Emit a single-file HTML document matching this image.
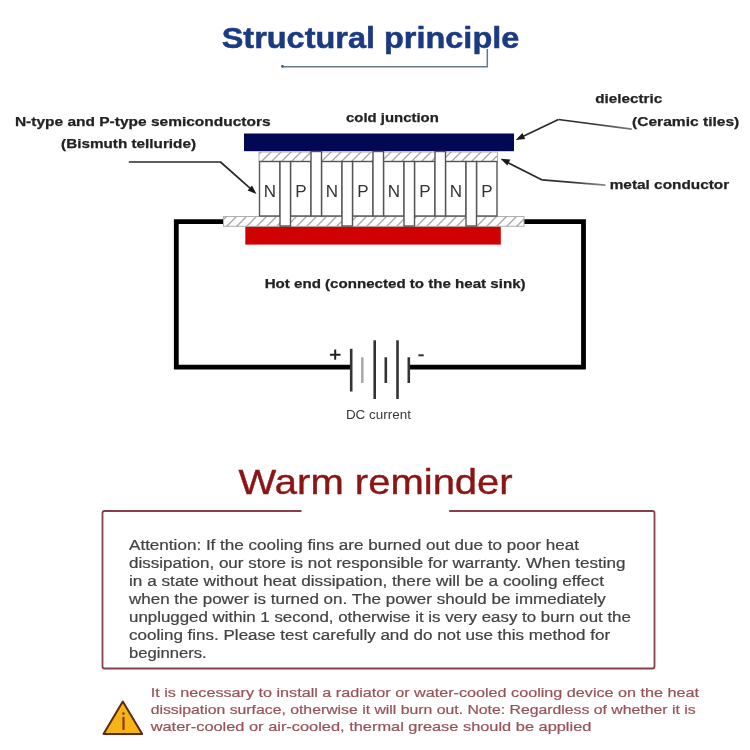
<!DOCTYPE html>
<html><head><meta charset="utf-8">
<style>
html,body{margin:0;padding:0;background:#fff;}
body{width:750px;height:750px;overflow:hidden;position:relative;}
svg{position:absolute;left:0;top:0;filter:blur(0.3px);}
text{font-family:"Liberation Sans",sans-serif;}
</style></head>
<body>
<svg width="750" height="750" viewBox="0 0 750 750">
<defs>
<pattern id="hatch" patternUnits="userSpaceOnUse" width="10" height="10" patternTransform="translate(3,0)">
<path d="M-2,12 L12,-2" stroke="#a8a8a8" stroke-width="1.3"/>
<path d="M-12,12 L2,-2" stroke="#a8a8a8" stroke-width="1.3"/>
<path d="M8,12 L22,-2" stroke="#a8a8a8" stroke-width="1.3"/>
</pattern>
</defs>

<!-- Title -->
<text x="221.7" y="48.4" font-size="29" font-weight="bold" fill="#1b3a82" stroke="#1b3a82" stroke-width="0.5" textLength="297.6" lengthAdjust="spacingAndGlyphs">Structural principle</text>
<path d="M282,66.8 H487.3 V49" fill="none" stroke="#66798a" stroke-width="1.5"/>
<circle cx="282.4" cy="66.3" r="1.4" fill="#4a5a68"/>

<!-- Labels -->
<text x="14.9" y="126.2" font-size="13" font-weight="bold" fill="#222" stroke="#222" stroke-width="0.25" textLength="255.7" lengthAdjust="spacingAndGlyphs">N-type and P-type semiconductors</text>
<text x="61.1" y="148.2" font-size="13" font-weight="bold" fill="#222" stroke="#222" stroke-width="0.25" textLength="134.9" lengthAdjust="spacingAndGlyphs">(Bismuth telluride)</text>
<text x="346" y="121.6" font-size="13.5" font-weight="bold" fill="#222" stroke="#222" stroke-width="0.25" textLength="92.8" lengthAdjust="spacingAndGlyphs">cold junction</text>
<text x="595.3" y="103.1" font-size="13" font-weight="bold" fill="#222" stroke="#222" stroke-width="0.25" textLength="66.8" lengthAdjust="spacingAndGlyphs">dielectric</text>
<text x="632" y="126" font-size="13" font-weight="bold" fill="#222" stroke="#222" stroke-width="0.25" textLength="107.3" lengthAdjust="spacingAndGlyphs">(Ceramic tiles)</text>
<text x="609.7" y="189.2" font-size="13" font-weight="bold" fill="#222" stroke="#222" stroke-width="0.25" textLength="119.5" lengthAdjust="spacingAndGlyphs">metal conductor</text>
<text x="264.7" y="287.6" font-size="13" font-weight="bold" fill="#222" stroke="#222" stroke-width="0.25" textLength="260.9" lengthAdjust="spacingAndGlyphs">Hot end (connected to the heat sink)</text>

<!-- Arrows -->
<defs>
<linearGradient id="g1" gradientUnits="userSpaceOnUse" x1="558" y1="120" x2="632" y2="129"><stop offset="0" stop-color="#2a2a2a"/><stop offset="0.5" stop-color="#3a3a3a"/><stop offset="1" stop-color="#7a7a7a"/></linearGradient>
<linearGradient id="g2" gradientUnits="userSpaceOnUse" x1="542" y1="180" x2="605" y2="185"><stop offset="0" stop-color="#2a2a2a"/><stop offset="0.5" stop-color="#3a3a3a"/><stop offset="1" stop-color="#8a8a8a"/></linearGradient>
</defs>
<g fill="none" stroke-width="1.7" stroke-linejoin="round">
<polyline points="128.8,162 220.5,162 252.8,190.7" stroke="#2a2a2a"/>
<polyline points="558.4,119.5 520.2,137.7" stroke="#2a2a2a"/>
<polyline points="631.8,129.2 558.4,119.5" stroke="url(#g1)"/>
<polyline points="542.2,179.9 505.6,161.5" stroke="#2a2a2a"/>
<polyline points="605.4,185.2 542.2,179.9" stroke="url(#g2)"/>
</g>
<g fill="#1a1a1a">
<polygon points="256.5,194.0 247.6,190.5 252.0,185.6"/>
<polygon points="515.7,139.9 522.4,133.0 525.2,138.9"/>
<polygon points="500.6,158.8 510.3,159.6 507.3,165.6"/>
</g>

<!-- Wire -->
<path d="M223,221.6 H176.3 V367.1 H350 M409,367.1 H583.5 V221.6 H524" fill="none" stroke="#000" stroke-width="4.8"/>

<!-- Blue bar -->
<rect x="244" y="133.5" width="270" height="17.7" fill="#020854"/>
<!-- Red bar -->
<rect x="245.3" y="226.4" width="255.5" height="18.2" fill="#d00200"/>

<!-- bottom hatched strip -->
<rect x="223.5" y="216.5" width="300.5" height="9.8" fill="url(#hatch)" stroke="#b0b0b0" stroke-width="1"/>
<!-- top hatched strips -->
<rect x="259" y="152" width="52.5" height="9.5" fill="url(#hatch)" stroke="#b0b0b0" stroke-width="1"/>
<rect x="321" y="152" width="52.5" height="9.5" fill="url(#hatch)" stroke="#b0b0b0" stroke-width="1"/>
<rect x="383" y="152" width="52.5" height="9.5" fill="url(#hatch)" stroke="#b0b0b0" stroke-width="1"/>
<rect x="445" y="152" width="52.5" height="9.5" fill="url(#hatch)" stroke="#b0b0b0" stroke-width="1"/>

<!-- blocks -->
<g fill="#fff" stroke="#555" stroke-width="1.4">
<rect x="259.5" y="161.5" width="20.5" height="54.5"/>
<rect x="290.5" y="161.5" width="20.5" height="54.5"/>
<rect x="321.5" y="161.5" width="20.5" height="54.5"/>
<rect x="352.5" y="161.5" width="20.5" height="54.5"/>
<rect x="383.5" y="161.5" width="20.5" height="54.5"/>
<rect x="414.5" y="161.5" width="20.5" height="54.5"/>
<rect x="445.5" y="161.5" width="20.5" height="54.5"/>
<rect x="476.5" y="161.5" width="20.5" height="54.5"/>
<!-- down pillars -->
<rect x="280" y="161.5" width="10.5" height="64.5"/>
<rect x="342" y="161.5" width="10.5" height="64.5"/>
<rect x="404" y="161.5" width="10.5" height="64.5"/>
<rect x="466" y="161.5" width="10.5" height="64.5"/>
<!-- up pillars -->
<rect x="311" y="151.5" width="10.5" height="64.5"/>
<rect x="373" y="151.5" width="10.5" height="64.5"/>
<rect x="435" y="151.5" width="10.5" height="64.5"/>
</g>
<g font-size="17" fill="#333" text-anchor="middle">
<text x="270" y="197">N</text><text x="301" y="197">P</text>
<text x="332" y="197">N</text><text x="363" y="197">P</text>
<text x="394" y="197">N</text><text x="425" y="197">P</text>
<text x="456" y="197">N</text><text x="487" y="197">P</text>
</g>

<!-- Battery -->
<g stroke-width="2.6" fill="none">
<line x1="351.2" y1="348.8" x2="351.2" y2="391.5" stroke="#333"/>
<line x1="362.3" y1="357.3" x2="362.3" y2="383" stroke="#aaa"/>
<line x1="374.7" y1="340.3" x2="374.7" y2="399" stroke="#333"/>
<line x1="385.8" y1="357.3" x2="385.8" y2="383" stroke="#333"/>
<line x1="397.5" y1="340.3" x2="397.5" y2="399" stroke="#333"/>
<line x1="408.8" y1="357.3" x2="408.8" y2="383" stroke="#333"/>
</g>
<path d="M330,354.7 H340.5 M335.2,349.6 V359.8" stroke="#222" stroke-width="2"/>
<rect x="418.4" y="354.3" width="5.3" height="2" fill="#333"/>
<text x="345.9" y="419.2" font-size="12" fill="#3a3a3a" textLength="65.1" lengthAdjust="spacingAndGlyphs">DC current</text>

<!-- Warm reminder -->
<text x="238.6" y="493.6" font-size="34.5" fill="#8b1414" stroke="#8b1414" stroke-width="0.4" textLength="274.1" lengthAdjust="spacingAndGlyphs">Warm reminder</text>
<path d="M301.5,511 H104.5 Q102.5,511 102.5,513 V666.5 Q102.5,668.5 104.5,668.5 H652.5 Q654.5,668.5 654.5,666.5 V513 Q654.5,511 652.5,511 H449.2" fill="none" stroke="#85404a" stroke-width="1.8"/>

<g font-size="14" fill="#424242" stroke="#424242" stroke-width="0.2">
<text x="129" y="550" textLength="449.9" lengthAdjust="spacingAndGlyphs">Attention: If the cooling fins are burned out due to poor heat</text>
<text x="129" y="568" textLength="496.4" lengthAdjust="spacingAndGlyphs">dissipation, our store is not responsible for warranty. When testing</text>
<text x="129" y="586" textLength="475" lengthAdjust="spacingAndGlyphs">in a state without heat dissipation, there will be a cooling effect</text>
<text x="129" y="604" textLength="476.8" lengthAdjust="spacingAndGlyphs">when the power is turned on. The power should be immediately</text>
<text x="129" y="622" textLength="501.9" lengthAdjust="spacingAndGlyphs">unplugged within 1 second, otherwise it is very easy to burn out the</text>
<text x="129" y="640" textLength="481.1" lengthAdjust="spacingAndGlyphs">cooling fins. Please test carefully and do not use this method for</text>
<text x="129" y="658" textLength="77.7" lengthAdjust="spacingAndGlyphs">beginners.</text>
</g>

<!-- Warning -->
<path d="M122.8,701.5 L103.5,734 H142.2 Z" fill="#f7b417" stroke="#5c2a0c" stroke-width="2" stroke-linejoin="round"/>
<rect x="122.4" y="716.8" width="2.2" height="13.2" fill="#8a3a12"/>
<circle cx="123.5" cy="713.6" r="1.3" fill="#8a3a12"/>
<g font-size="13" fill="#985256" stroke="#985256" stroke-width="0.2">
<text x="150.7" y="696.6" textLength="548.3" lengthAdjust="spacingAndGlyphs">It is necessary to install a radiator or water-cooled cooling device on the heat</text>
<text x="150.7" y="713.7" textLength="544.9" lengthAdjust="spacingAndGlyphs">dissipation surface, otherwise it will burn out. Note: Regardless of whether it is</text>
<text x="150.7" y="730.9" textLength="440.7" lengthAdjust="spacingAndGlyphs">water-cooled or air-cooled, thermal grease should be applied</text>
</g>
</svg>
</body></html>
